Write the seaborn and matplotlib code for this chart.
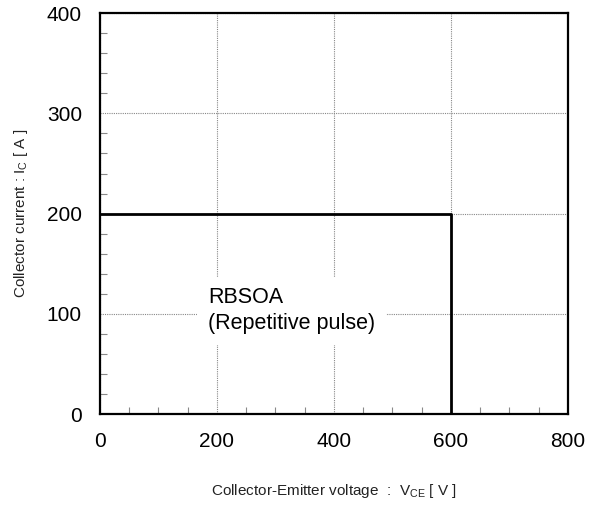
import pandas as pd
import seaborn as sns
import matplotlib.pyplot as plt
from matplotlib.ticker import MultipleLocator

# %% data
vce = [0, 600, 600]
ic = [200, 200, 0]
x_ticks = [0, 200, 400, 600, 800]
y_ticks = [0, 100, 200, 300, 400]

df = pd.DataFrame({'vce': vce, 'ic': ic})

# %% plot
sns.set_theme(style="white")
plt.rcParams['font.family'] = ['Liberation Sans', 'DejaVu Sans']
plt.rcParams['mathtext.fontset'] = 'custom'
plt.rcParams['mathtext.rm'] = 'Liberation Sans'

fig = plt.figure(figsize=(6.06, 5.07), dpi=100)
ax = fig.add_axes([0.165, 0.1834, 0.772, 0.7906])

sns.lineplot(data=df, x='vce', y='ic', estimator=None, sort=False,
             color='black', linewidth=2.0, ax=ax, zorder=3)

ax.set_xlim(0, 800)
ax.set_ylim(0, 400)
ax.set_xticks(x_ticks)
ax.set_yticks(y_ticks)
ax.xaxis.set_minor_locator(MultipleLocator(50))
ax.yaxis.set_minor_locator(MultipleLocator(20))
ax.tick_params(which='major', direction='in', length=0, labelsize=15, pad=13,
               colors='black', labelcolor='black')
ax.tick_params(which='minor', direction='in', length=5, width=0.8, color='#888888',
               bottom=True, left=True)
ax.grid(True, which='major', color='#888888', linestyle=(0, (1, 1)), linewidth=0.8)

for s in ax.spines.values():
    s.set_linewidth(1.6)
    s.set_color('black')

ax.set_xlabel(r'Collector-Emitter voltage  :  V$_{\rm CE}$ [ V ]', fontsize=11,
              labelpad=22, color='#222222')
ax.set_ylabel(r'Collector current : I$_{\rm C}$ [ A ]', fontsize=11,
              labelpad=12, color='#222222')

ax.text(185, 103, 'RBSOA\n(Repetitive pulse)', fontsize=15.5, va='center', ha='left',
        linespacing=1.3, zorder=4, color='black',
        bbox=dict(boxstyle='square,pad=0.5', facecolor='white', edgecolor='none'))

fig.savefig('out.png', dpi=100)
